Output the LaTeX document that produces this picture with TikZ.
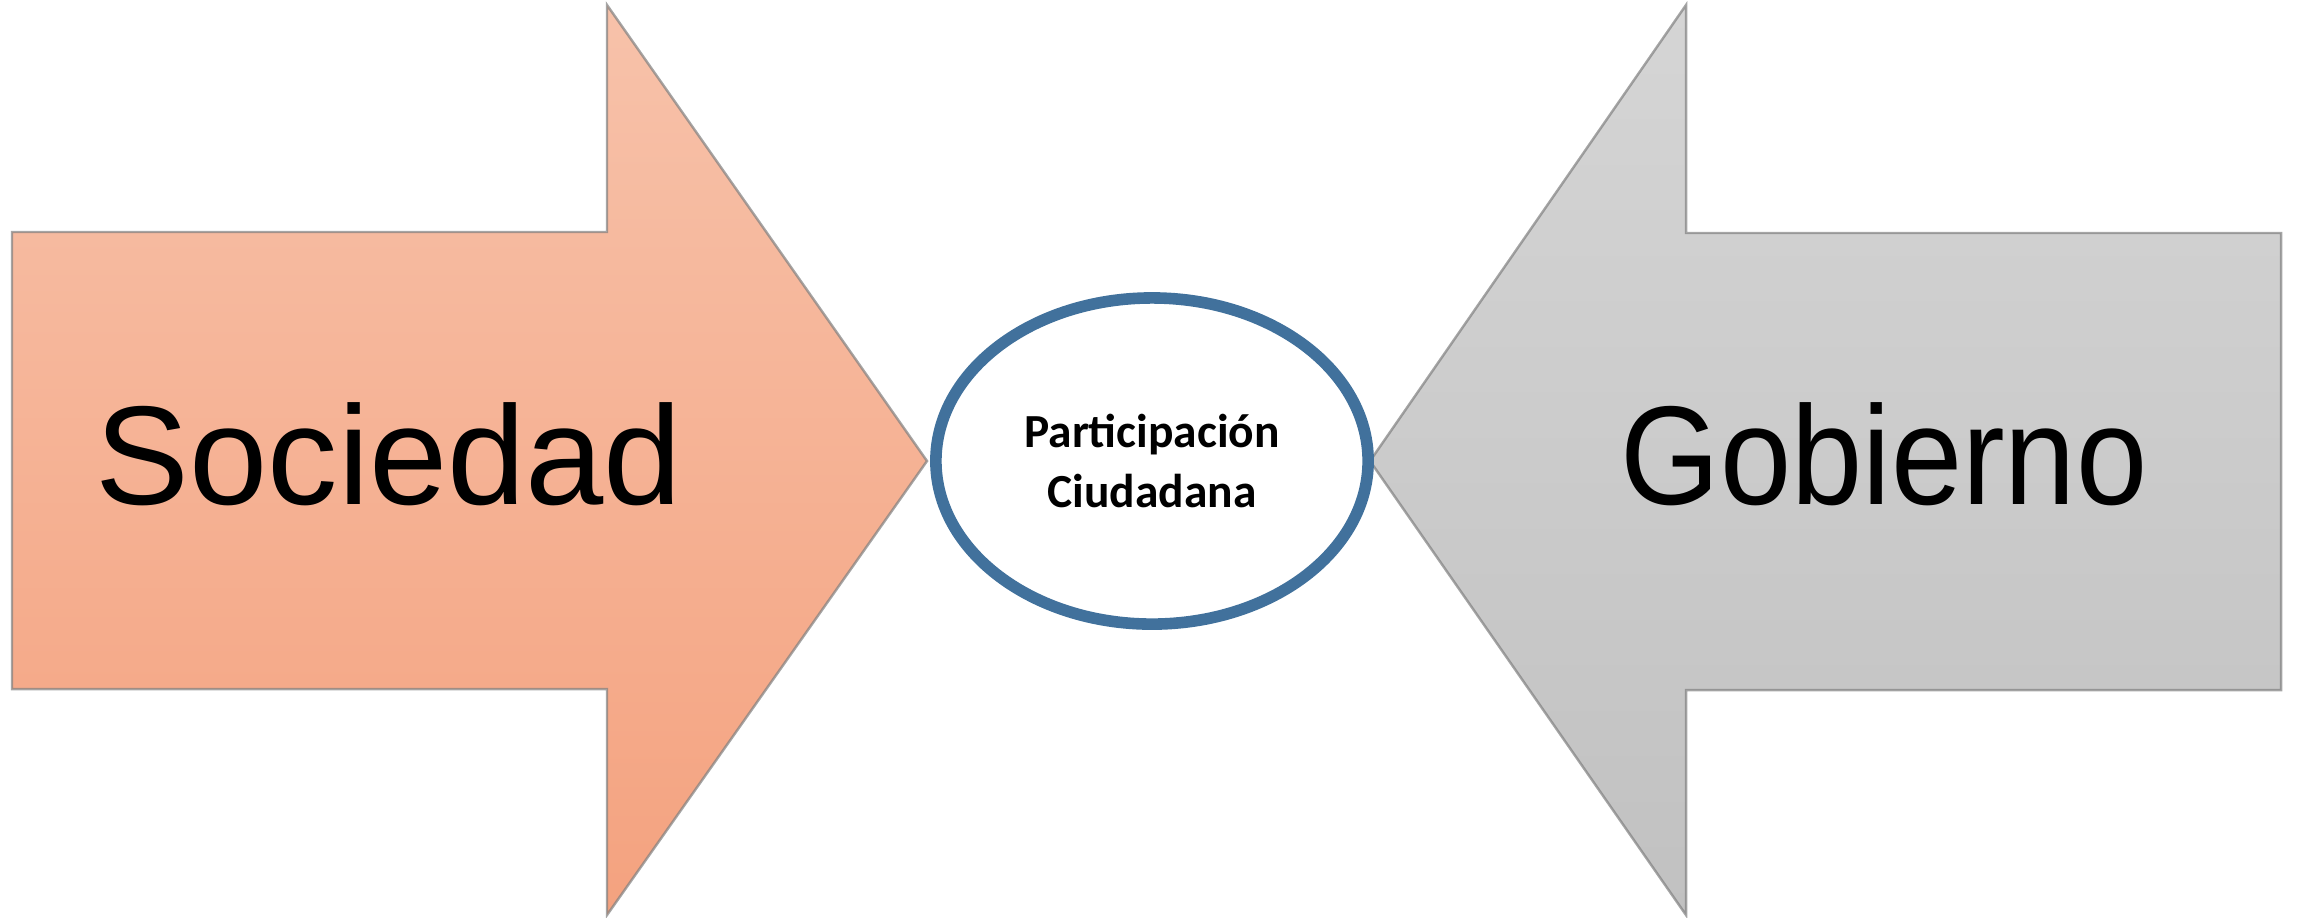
\documentclass[tikz,border=0pt]{standalone}
\usepackage{fontspec}
\newfontfamily\armfont{Liberation Sans}
\newfontfamily\hubfont{Carlito}
\usepackage{tikz}
\usetikzlibrary{positioning, shapes.geometric}
\definecolor{salmontop}{HTML}{F7C2AA}
\definecolor{salmonbot}{HTML}{F4A27F}
\definecolor{greytop}{HTML}{D5D5D5}
\definecolor{greybot}{HTML}{C1C1C1}
\definecolor{hubblue}{HTML}{41719C}
\tikzset{
	x=0.01cm, y=-0.01cm,
	bigarrow/.style= {
		draw=black!50,
		draw opacity=0.7,
		line width=0.7pt,
		line join=miter
	},
	word/.style= {
		font={\armfont\fontsize{40}{48}\selectfont},
		anchor=base,
		inner sep=0
	},
	hub/.style= {
		ellipse,
		draw=hubblue,
		fill=white,
		line width=3.3pt,
		minimum width=4.32cm,
		minimum height=3.26cm,
		inner sep=0,
		align=center,
		font={\hubfont\bfseries\fontsize{13.5}{17}\selectfont}
	},
}

\begin{document}
\begin{tikzpicture}
	
	\useasboundingbox (0,0) rectangle (2298,917);
	
	% the two arrows
	\path[bigarrow, top color=salmontop, bottom color=salmonbot]
		(12,232) -- (607,232) -- (607,5) -- (927,461) -- (607,915) -- (607,689) -- (12,689) -- cycle;
	\path[bigarrow, top color=greytop, bottom color=greybot]
		(2281,233) -- (1686,233) -- (1686,5) -- (1370,461) -- (1686,915) -- (1686,690) -- (2281,690) -- cycle;
	
	\node (society)[word] at (389,504) {Sociedad};
	\node (government)[word] at (1884,504) {\scalebox{0.91}[1]{Gobierno}};
	
	\node (participation)[hub] at (1152,461) {Participación\\Ciudadana};
	
\end{tikzpicture}
\end{document}
